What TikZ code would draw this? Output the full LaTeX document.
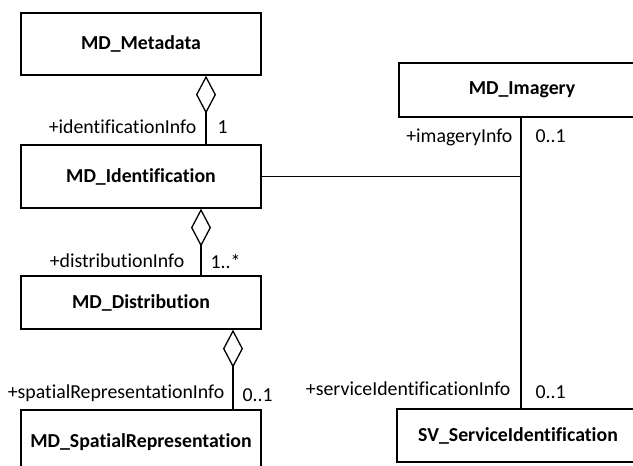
\documentclass[tikz,border=0pt]{standalone}
\usepackage{fontspec}
\setmainfont{Carlito}[Ligatures=NoCommon]
\usetikzlibrary{arrows.meta}

\tikzset{
  cls/.style={draw, rectangle, line width=1.3pt, minimum width=240pt,
    font=\fontsize{19.8}{23}\selectfont\bfseries},
  role/.style={inner sep=0pt, font=\fontsize{19.8}{23}\selectfont},
  agg/.style={{Diamond[open,length=38pt,width=20pt]}-},
}

\begin{document}
\begin{tikzpicture}[x=1pt,y=-1pt,line width=1.3pt]

        \useasboundingbox (0,0) rectangle (633,466);

        \begin{scope}[every node/.style={cls}]
          \node[minimum height=62pt] (meta)  at (141,44)    {MD\_Metadata};
          \node[minimum height=63pt] (ident) at (141,176.5) {MD\_Identification};
          \node[minimum height=53pt] (dist)  at (141,302.5) {MD\_Distribution};
          \node[minimum height=64pt] (spat)  at (141,442)   {MD\_SpatialRepresentation};
          \node[minimum height=54pt, minimum width=246pt] (img) at (522,90)    {MD\_Imagery};
          \node[minimum height=53pt, minimum width=242pt] (sv)  at (518,435.5) {SV\_ServiceIdentification};
        \end{scope}

        \coordinate (j) at (521,176.5);

        \draw[agg] ([xshift=65pt]meta.south)  -- ([xshift=65pt]ident.north);
        \draw[agg] ([xshift=60pt]ident.south) -- ([xshift=60pt]dist.north);
        \draw[agg] ([xshift=92pt]dist.south)  -- ([xshift=92pt]spat.north);
        \draw (ident.east) -- (j);
        \draw (j |- img.south) -- (j |- sv.north);

        \begin{scope}[every node/.style={role}]
          \node[anchor=base east] (r1) at (197,133) {+identificationInfo};
          \node[anchor=base west] (m1) at (217,133) {1};
          \node[anchor=base east] (r2) at (185,267) {+distributionInfo};
          \node[anchor=base west] (m2) at (210,268) {1..*};
          \node[anchor=base east] (r3) at (225,398) {+spatialRepresentationInfo};
          \node[anchor=base west] (m3) at (242,401) {0..1};
          \node[anchor=base east] (r4) at (513,142) {+imageryInfo};
          \node[anchor=base west] (m4) at (535,142) {0..1};
          \node[anchor=base east] (r5) at (511,395) {+serviceIdentificationInfo};
          \node[anchor=base west] (m5) at (535,398) {0..1};
        \end{scope}

\end{tikzpicture}
\end{document}
